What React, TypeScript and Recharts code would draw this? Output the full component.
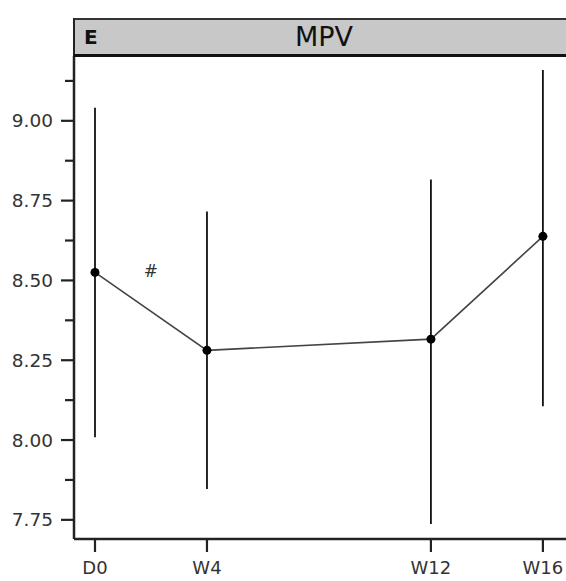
import React from 'react';
import { LineChart, Line, XAxis, YAxis, ErrorBar, ReferenceDot } from 'recharts';

// visit timepoints (weeks) and labels
const weeks = [0, 4, 12, 16];
const weekLabels = ['D0', 'W4', 'W12', 'W16'];
// MPV mean and range
const mpvMean = [8.525, 8.281, 8.316, 8.638];
const mpvLow = [8.009, 7.847, 7.737, 8.106];
const mpvHigh = [9.041, 8.716, 8.816, 9.159];

const yTicks = [7.75, 7.875, 8.0, 8.125, 8.25, 8.375, 8.5, 8.625, 8.75, 8.875, 9.0, 9.125];
const yMajor = [7.75, 8.0, 8.25, 8.5, 8.75, 9.0];

const data = weeks.map((w, i) => ({
  week: w,
  mean: mpvMean[i],
  err: [mpvMean[i] - mpvLow[i], mpvHigh[i] - mpvMean[i]],
}));

const PLOT_LEFT = 74;
const FONT = '"DejaVu Sans", Arial, sans-serif';

const YTick = ({ y, payload }: any) => {
  const major = yMajor.some(v => Math.abs(v - payload.value) < 1e-6);
  return (
    <g>
      <line x1={PLOT_LEFT - (major ? 13 : 9)} x2={PLOT_LEFT} y1={y} y2={y} stroke="#222" strokeWidth={2.2} />
      {major && (
        <text x={PLOT_LEFT - 21} y={y} dy={6.5} textAnchor="end" fontSize={18.5} fill="#333" fontFamily={FONT}>
          {payload.value.toFixed(2)}
        </text>
      )}
    </g>
  );
};

const XTick = ({ x, payload }: any) => {
  const idx = weeks.indexOf(payload.value);
  return (
    <g>
      <line x1={x} x2={x} y1={540} y2={552} stroke="#222" strokeWidth={2.2} />
      <text x={x} y={574} textAnchor="middle" fontSize={18} fill="#333" fontFamily={FONT}>
        {weekLabels[idx]}
      </text>
    </g>
  );
};

const App = () => {
  return (
    <div style={{ position: 'absolute', left: 0, top: 0, width: 566, height: 581, overflow: 'hidden', background: '#fff' }}>
      <LineChart
        width={620}
        height={581}
        data={data}
        margin={{ top: 56, right: 34, bottom: 0, left: 0 }}
      >
        <XAxis
          type="number"
          dataKey="week"
          domain={[-0.75, 17.54]}
          ticks={weeks}
          tick={<XTick />}
          tickLine={false}
          axisLine={{ stroke: '#222', strokeWidth: 2.5 }}
          height={42}
          allowDataOverflow
        />
        <YAxis
          type="number"
          domain={[7.69, 9.203]}
          ticks={yTicks}
          tick={<YTick />}
          tickLine={false}
          axisLine={{ stroke: '#222', strokeWidth: 2.5 }}
          width={74}
          allowDataOverflow
          interval={0}
        />
        <Line
          type="linear"
          dataKey="mean"
          stroke="#444"
          strokeWidth={1.6}
          dot={{ r: 4.5, fill: '#000', stroke: '#000', strokeWidth: 0 }}
          isAnimationActive={false}
        >
          <ErrorBar dataKey="err" direction="y" width={0} stroke="#111" strokeWidth={1.8} />
        </Line>
        <ReferenceDot
          x={2}
          y={8.53}
          r={0}
          label={{ value: '#', position: 'center', fontSize: 17, fill: '#333', fontFamily: FONT }}
        />
      </LineChart>
      <div
        style={{
          position: 'absolute',
          left: 73,
          top: 18,
          width: 600,
          height: 34,
          background: '#c8c8c8',
          borderTop: '2px solid #333',
          borderBottom: '3px solid #111',
          borderLeft: '2px solid #222',
          fontFamily: FONT,
        }}
      >
        <span style={{ position: 'absolute', left: 9, top: 6, fontSize: 20, lineHeight: '22px', fontWeight: 'bold', color: '#111' }}>E</span>
        <span style={{ position: 'absolute', left: 249, top: 1, width: 0, display: 'flex', justifyContent: 'center', fontSize: 27, lineHeight: '32px', color: '#111' }}>
          <span style={{ whiteSpace: 'nowrap' }}>MPV</span>
        </span>
      </div>
    </div>
  );
};

export default App;
